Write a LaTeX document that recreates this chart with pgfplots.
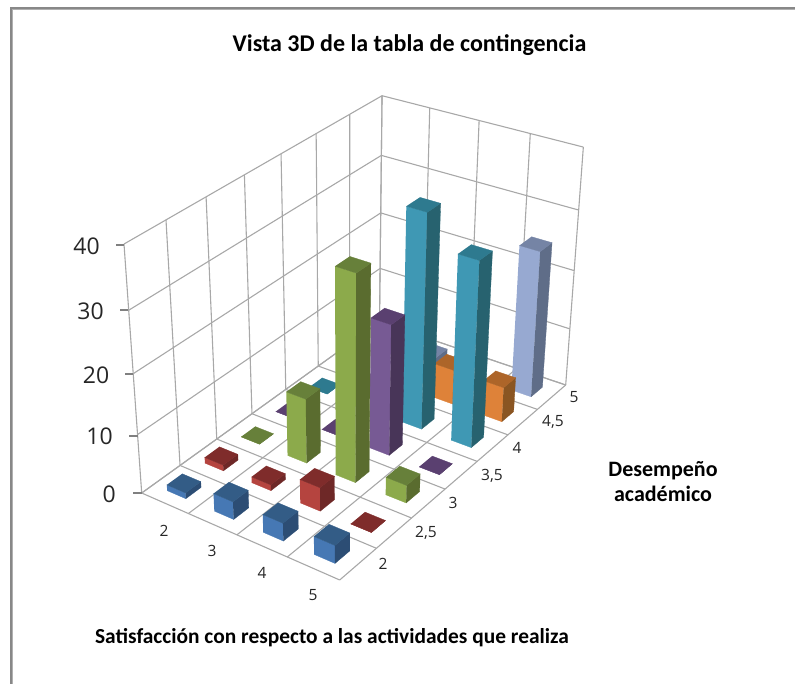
\documentclass[border=0pt]{standalone}
\usepackage{pgfplots}
\pgfplotsset{compat=1.18}
\usepackage{fontspec}
\setmainfont{Carlito}
\newfontfamily\axfont{Open Sans}
\definecolor{blueF}{HTML}{4678B4}\definecolor{blueT}{HTML}{335C86}\definecolor{blueS}{HTML}{2C4D74}
\definecolor{redF}{HTML}{B5443F}\definecolor{redT}{HTML}{7F2C2B}\definecolor{redS}{HTML}{6E2827}
\definecolor{greenF}{HTML}{8CAA4B}\definecolor{greenT}{HTML}{67803A}\definecolor{greenS}{HTML}{5A6C2F}
\definecolor{purpleF}{HTML}{775A94}\definecolor{purpleT}{HTML}{5A4070}\definecolor{purpleS}{HTML}{483558}
\definecolor{tealF}{HTML}{3F98B4}\definecolor{tealT}{HTML}{2E7A8F}\definecolor{tealS}{HTML}{27626F}
\definecolor{orangeF}{HTML}{DE8239}\definecolor{orangeT}{HTML}{AD6529}\definecolor{orangeS}{HTML}{8A5522}
\definecolor{lightF}{HTML}{97A9D1}\definecolor{lightT}{HTML}{7584A5}\definecolor{lightS}{HTML}{5F6D88}
\definecolor{gridc}{HTML}{A8A8A8}
% one face or line, given in data units: satisfaction, performance, frequency
\newcommand{\gline}[6]{\addplot[color=gridc,line width=1.1pt,mark=none,forget plot] table[row sep=\\,x expr={projx(\thisrow{s},\thisrow{p},\thisrow{z})},y expr={projy(\thisrow{s},\thisrow{p},\thisrow{z})}]{s p z\\ #1 #2 #3\\ #4 #5 #6\\};}
\newcommand{\face}[5]{\addplot[fill=#5,draw=#5,line width=0.3pt,mark=none,forget plot] table[row sep=\\,x expr={projx(#1+0.2*\thisrow{a},#2+0.1*\thisrow{b},#3*\thisrow{c})},y expr={projy(#1+0.2*\thisrow{a},#2+0.1*\thisrow{b},#3*\thisrow{c})}]{a b c\\ #4};}
\newcommand{\tdbar}[4]{%
 \face{#1}{#2}{#3}{-1 -1 0\\ 1 -1 0\\ 1 -1 1\\ -1 -1 1\\}{#4F}%
 \face{#1}{#2}{#3}{1 -1 0\\ 1 1 0\\ 1 1 1\\ 1 -1 1\\}{#4S}%
 \face{#1}{#2}{#3}{-1 -1 1\\ 1 -1 1\\ 1 1 1\\ -1 1 1\\}{#4T}%
}
\begin{document}
\begin{tikzpicture}[declare function={
 den(\s,\p,\z)=1-0.0737*(\s-1.5)/4+0.1528*(\p-1.75)/3.5-0.08*\z/40;
 projx(\s,\p,\z)=(172.96*(\s-1.5)/4+295.79*(\p-1.75)/3.5-27.62*\z/40+141.7)/den(\s,\p,\z);
 projy(\s,\p,\z)=(44.25*(\s-1.5)/4-121.8*(\p-1.75)/3.5-268.52*\z/40+493)/den(\s,\p,\z);
}]
\begin{axis}[scale only axis,width=795pt,height=684pt,xmin=0,xmax=795,ymin=0,ymax=684,y dir=reverse,hide axis,clip=false]
% page extent
\path[use as bounding box] (axis cs:0,0) rectangle (axis cs:795,684);
% chart frame
\fill[color={rgb,255:red,176;green,176;blue,176}] (axis cs:10,7) rectangle (axis cs:795,10);
\fill[color={rgb,255:red,176;green,176;blue,176}] (axis cs:10,7) rectangle (axis cs:13,684);
\fill[color={rgb,255:red,136;green,136;blue,136}] (axis cs:10,7) rectangle (axis cs:795,9);
\fill[color={rgb,255:red,136;green,136;blue,136}] (axis cs:10,7) rectangle (axis cs:12,684);
% floor
\pgfplotsinvokeforeach{1.75,2.25,2.75,3.25,3.75,4.25,4.75,5.25}{\gline{1.5}{#1}{0}{5.5}{#1}{0}}
\pgfplotsinvokeforeach{1.5,2.5,3.5,4.5,5.5}{\gline{#1}{1.75}{0}{#1}{5.25}{0}}
% left wall
\pgfplotsinvokeforeach{1.75,2.25,2.75,3.25,3.75,4.25,4.75,5.25}{\gline{1.5}{#1}{0}{1.5}{#1}{40}}
\pgfplotsinvokeforeach{0,10,20,30,40}{\gline{1.5}{1.75}{#1}{1.5}{5.25}{#1}}
% back wall
\pgfplotsinvokeforeach{1.5,2.5,3.5,4.5,5.5}{\gline{#1}{5.25}{0}{#1}{5.25}{40}}
\pgfplotsinvokeforeach{0,10,20,30,40}{\gline{1.5}{5.25}{#1}{5.5}{5.25}{#1}}
% bars, back to front: satisfaction, performance, frequency, series
\tdbar{3}{5}{1}{light}
\tdbar{5}{5}{25}{light}
\tdbar{4}{4.5}{6}{orange}
\tdbar{5}{4.5}{6}{orange}
\tdbar{2}{4}{0}{teal}
\tdbar{4}{4}{36}{teal}
\tdbar{5}{4}{31}{teal}
\tdbar{2}{3.5}{0}{purple}
\tdbar{3}{3.5}{0}{purple}
\tdbar{4}{3.5}{22}{purple}
\tdbar{5}{3.5}{0}{purple}
\tdbar{2}{3}{0}{green}
\tdbar{3}{3}{11}{green}
\tdbar{4}{3}{34}{green}
\tdbar{5}{3}{3}{green}
\tdbar{2}{2.5}{1}{red}
\tdbar{3}{2.5}{1}{red}
\tdbar{4}{2.5}{4}{red}
\tdbar{5}{2.5}{0}{red}
\tdbar{2}{2}{1}{blue}
\tdbar{3}{2}{3}{blue}
\tdbar{4}{2}{3}{blue}
\tdbar{5}{2}{3}{blue}
% height ticks
\draw[color={rgb,255:red,128;green,128;blue,128},line width=1.2pt]
 (axis cs:116,245)--(axis cs:124,245) (axis cs:120,310)--(axis cs:128,310) (axis cs:125,374)--(axis cs:133,374)
 (axis cs:129,436)--(axis cs:137.7,436) (axis cs:133,493)--(axis cs:141.7,493);
\def\zf{\axfont\fontsize{23}{23}\selectfont}
\node[anchor=east,inner sep=0pt,text=black!85] at (axis cs:100,246) {\zf 40};
\node[anchor=east,inner sep=0pt,text=black!85] at (axis cs:104,311) {\zf 30};
\node[anchor=east,inner sep=0pt,text=black!85] at (axis cs:109.5,375) {\zf 20};
\node[anchor=east,inner sep=0pt,text=black!85] at (axis cs:113,436) {\zf 10};
\node[anchor=east,inner sep=0pt,text=black!85] at (axis cs:116,494) {\zf 0};
\def\cf{\axfont\fontsize{15.5}{15.5}\selectfont}
\node[text=black!85] at (axis cs:164,531) {\cf 2};
\node[text=black!85] at (axis cs:212,551) {\cf 3};
\node[text=black!85] at (axis cs:262,573) {\cf 4};
\node[text=black!85] at (axis cs:313,595) {\cf 5};
\node[text=black!85] at (axis cs:383,564) {\cf 2};
\node[text=black!85] at (axis cs:426,533) {\cf 2,5};
\node[text=black!85] at (axis cs:453,503) {\cf 3};
\node[text=black!85] at (axis cs:492,476) {\cf 3,5};
\node[text=black!85] at (axis cs:517,448) {\cf 4};
\node[text=black!85] at (axis cs:553,422) {\cf 4,5};
\node[text=black!85] at (axis cs:574,397) {\cf 5};
\node at (axis cs:409.5,45) {\bfseries\fontsize{24}{28}\selectfont Vista 3D de la tabla de contingencia};
\node at (axis cs:332,638) {\bfseries\fontsize{21.4}{25}\selectfont Satisfacción con respecto a las actividades que realiza};
\node[align=center] at (axis cs:663,482) {\bfseries\fontsize{22}{25}\selectfont Desempeño\\[5pt] \bfseries\fontsize{22}{25}\selectfont académico};
\end{axis}
\end{tikzpicture}
\end{document}
